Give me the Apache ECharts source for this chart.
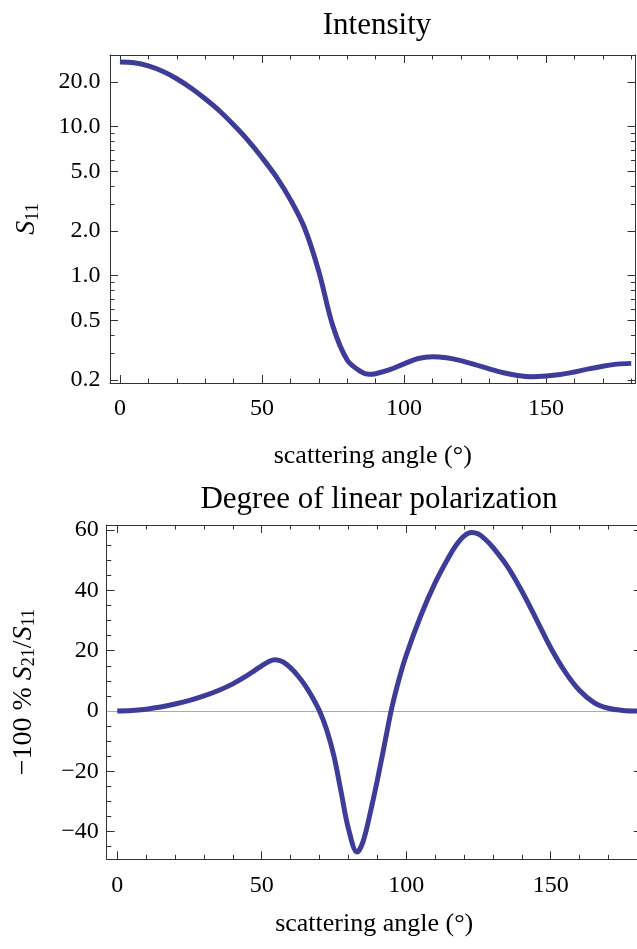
<!DOCTYPE html>
<html>
<head>
<meta charset="utf-8">
<script src="https://cdn.jsdelivr.net/npm/echarts@6/dist/echarts.min.js"></script>
<style>html,body{margin:0;padding:0;background:#fff}#c{width:637px;height:949px}</style>
</head>
<body>
<div id="c"></div>
<script>
// ---- data ----
const s11Angles = [0,5,10,15,20,25,30,35,40,45,50,55,60,65,70,75,80,85,87.5,90,95,100,105,110,115,120,125,130,135,140,145,150,155,160,165,170,175,180];
const s11Values = [27.2,26.85,25.6,23.55,21.0,18.2,15.4,12.8,10.3,8.13,6.21,4.62,3.24,2.09,1.07,0.457,0.272,0.226,0.218,0.220,0.234,0.256,0.278,0.286,0.281,0.269,0.253,0.237,0.223,0.214,0.210,0.212,0.217,0.226,0.237,0.247,0.255,0.258];
const dlpAngles = [0,5,10,15,20,25,30,35,40,45,47.5,50,52.5,54.5,56,57.5,60,62.5,65,67.5,70,72.5,75,77.5,80,83,85,87.5,90,92.5,95,97.5,100,105,110,115,117.5,120,122.5,125,127.5,130,135,140,145,150,155,160,165,170,175,180];
const dlpValues = [0,0.15,0.6,1.3,2.3,3.5,5.0,6.8,9.0,11.8,13.4,15.0,16.4,17.0,16.8,16.2,14.3,11.7,8.5,4.6,0,-6.3,-15,-27,-39,-46.8,-43.5,-34,-23,-11,1,10.5,18.5,31.5,42.5,51.5,55.3,58,59.2,58.7,56.8,54.3,48,39.8,30.5,21,13,6.8,2.8,0.9,0.2,0];
const xMajor = [0,50,100,150];
const xMinor = [10,20,30,40,60,70,80,90,110,120,130,140,160,170,180];
const s11Major = [0.2,0.5,1,2,5,10,20];
const s11Minor = [0.3,0.4,0.6,0.7,0.8,0.9,3,4,6,7,8,9];
const dlpMajor = [-40,-20,0,20,40,60];
const dlpMinor = [-45,-35,-30,-25,-15,-10,-5,5,10,15,25,30,35,45,50,55];
const titles = ['Intensity','Degree of linear polarization'];
const xName = 'scattering angle (°)';

const FONT = 'Liberation Serif';
const FRAME = '#333';
const LINE = '#3d3d99';

function xAxes(grid, min, max, name, gap) {
  const common = {type:'value', gridIndex:grid, min:min, max:max, splitLine:{show:false}};
  return [
    Object.assign({}, common, {position:'bottom', name:name, nameLocation:'middle', nameGap:gap,
      nameTextStyle:{fontFamily:FONT, fontSize:26, color:'#000'},
      axisLine:{show:true, onZero:false, lineStyle:{color:FRAME, width:1}},
      axisTick:{show:true, inside:true, length:8, lineStyle:{color:FRAME}, customValues:xMajor},
      axisLabel:{show:true, fontFamily:FONT, fontSize:24, color:'#000', margin:14, customValues:xMajor}}),
    Object.assign({}, common, {position:'bottom',
      axisLine:{show:false, onZero:false},
      axisTick:{show:true, inside:true, length:4.5, lineStyle:{color:FRAME}, customValues:xMinor},
      axisLabel:{show:false}}),
    Object.assign({}, common, {position:'top',
      axisLine:{show:true, onZero:false, lineStyle:{color:FRAME, width:1}},
      axisTick:{show:true, inside:true, length:8, lineStyle:{color:FRAME}, customValues:xMajor},
      axisLabel:{show:false}}),
    Object.assign({}, common, {position:'top',
      axisLine:{show:false, onZero:false},
      axisTick:{show:true, inside:true, length:4.5, lineStyle:{color:FRAME}, customValues:xMinor},
      axisLabel:{show:false}})
  ];
}

function yAxes(grid, type, min, max, major, minor, fmt, name, gap, margin) {
  const common = {type:type, gridIndex:grid, min:min, max:max, splitLine:{show:false}};
  if (type === 'log') common.logBase = 10;
  return [
    Object.assign({}, common, {position:'left', name:name, nameLocation:'middle', nameGap:gap, nameRotate:90,
      nameTextStyle:{fontFamily:FONT, fontSize:28, color:'#000', rich:{
        i:{fontFamily:FONT, fontSize:28, fontStyle:'italic', color:'#000'},
        n:{fontFamily:FONT, fontSize:28, color:'#000'},
        s:{fontFamily:FONT, fontSize:18, color:'#000', verticalAlign:'bottom', padding:[12,0,0,0]}
      }},
      axisLine:{show:true, onZero:false, lineStyle:{color:FRAME, width:1}},
      axisTick:{show:true, inside:true, length:8, lineStyle:{color:FRAME}, customValues:major},
      axisLabel:{show:true, fontFamily:FONT, fontSize:24, color:'#000', margin:margin, customValues:major, formatter:fmt}}),
    Object.assign({}, common, {position:'left',
      axisLine:{show:false, onZero:false},
      axisTick:{show:true, inside:true, length:4.5, lineStyle:{color:FRAME}, customValues:minor},
      axisLabel:{show:false}}),
    Object.assign({}, common, {position:'right',
      axisLine:{show:true, onZero:false, lineStyle:{color:FRAME, width:1}},
      axisTick:{show:true, inside:true, length:8, lineStyle:{color:FRAME}, customValues:major},
      axisLabel:{show:false}}),
    Object.assign({}, common, {position:'right',
      axisLine:{show:false, onZero:false},
      axisTick:{show:true, inside:true, length:4.5, lineStyle:{color:FRAME}, customValues:minor},
      axisLabel:{show:false}})
  ];
}

const chart = echarts.init(document.getElementById('c'), null, {renderer:'canvas'});
const option = {
  animation:false,
  backgroundColor:'#fff',
  title:[
    {text:titles[0], left:372, top:5, textAlign:'center', textStyle:{fontFamily:FONT, fontSize:31, fontWeight:'normal', color:'#000'}},
    {text:titles[1], left:374, top:479, textAlign:'center', textStyle:{fontFamily:FONT, fontSize:31, fontWeight:'normal', color:'#000'}}
  ],
  grid:[
    {left:110, top:55, width:525.5, height:328, outerBoundsMode:'none', containLabel:false},
    {left:106.7, top:525, width:535, height:334.3, outerBoundsMode:'none', containLabel:false}
  ],
  xAxis: xAxes(0, -3.5, 181.5, xName, 60).concat(xAxes(1, -3.66, 181.5, xName, 52)),
  yAxis: yAxes(0, 'log', 0.1905, 30.3, s11Major, s11Minor, v => Number(v).toFixed(1), '{i|S}{s|11}', 68, 9.5)
    .concat(yAxes(1, 'value', -49.2, 61.7, dlpMajor, dlpMinor, v => (v < 0 ? '\u2212' + Math.abs(v) : String(v)), '{n|\u2212100 % }{i|S}{s|21}{n|/}{i|S}{s|11}', 68, 8)),
  series:[
    {type:'line', xAxisIndex:0, yAxisIndex:0, data:s11Angles.map((a,i)=>[a,s11Values[i]]), showSymbol:false, smooth:0.35,
      lineStyle:{color:LINE, width:5}},
    {type:'line', xAxisIndex:4, yAxisIndex:4, data:dlpAngles.map((a,i)=>[a,dlpValues[i]]), showSymbol:false, smooth:0.35,
      lineStyle:{color:LINE, width:5}, z:3,
      markLine:{silent:true, symbol:'none', label:{show:false}, lineStyle:{color:'#aaa', width:1, type:'solid'}, data:[{yAxis:0}], z:1}}
  ]
};
chart.setOption(option);
</script>
</body>
</html>
